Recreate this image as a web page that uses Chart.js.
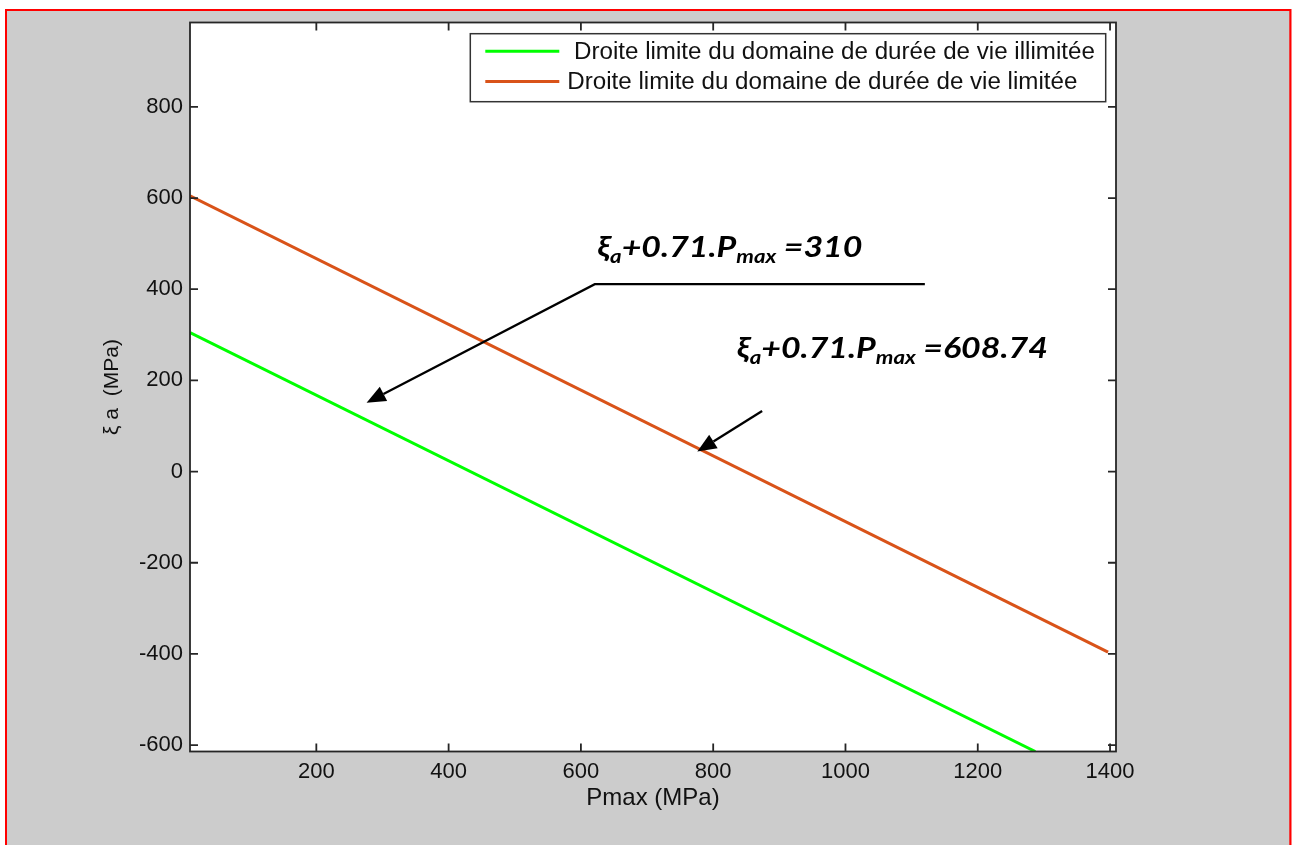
<!DOCTYPE html>
<html>
<head>
<meta charset="utf-8">
<script src="https://cdn.jsdelivr.net/npm/chart.js@4.4.1/dist/chart.umd.min.js"></script>
<style>
  html, body { margin: 0; padding: 0; background: #fff; }
  canvas { display: block; }
</style>
</head>
<body>
<canvas id="chart" width="1292" height="845"></canvas>
<script>
// values (both lines are straight, so only their ends)
const pmaxIllimitee = [9, 1287];
const xiIllimitee = [305, -614];
const pmaxLimitee = [9, 1397];
const xiLimitee = [605, -396];

const xTicks = [200, 400, 600, 800, 1000, 1200, 1400];
const yTicks = [-600, -400, -200, 0, 200, 400, 600, 800];

const legendLabels = [' Droite limite du domaine de durée de vie illimitée', 'Droite limite du domaine de durée de vie limitée'];
const lineColors = ['#00ff00', '#d95319'];

const FONT = "'Liberation Sans', Arial, sans-serif";
const NOTE_FONT = "Lato, 'Open Sans', sans-serif";

// Draws the figure frame (red outline, gray figure, white axes)
const framePlugin = {
    id: 'frame',
    beforeDraw(chart) {
        const { ctx, chartArea: a } = chart;
        ctx.save();
        ctx.fillStyle = '#ffffff';
        ctx.fillRect(0, 0, chart.width, chart.height);
        ctx.fillStyle = '#ff0000';
        ctx.fillRect(5, 9, 1286.5, chart.height);
        ctx.fillStyle = '#cccccc';
        ctx.fillRect(7, 11, 1289.3 - 7, chart.height);
        ctx.fillStyle = '#ffffff';
        ctx.fillRect(a.left, a.top, a.right - a.left, a.bottom - a.top);
        ctx.restore();
    }
};

// MATLAB style box with inward ticks on the four sides
const boxPlugin = {
    id: 'box',
    afterDatasetsDraw(chart) {
        const { ctx, chartArea: a, scales } = chart;
        const len = 8;
        ctx.save();
        ctx.strokeStyle = '#262626';
        ctx.lineWidth = 1.8;
        ctx.beginPath();
        xTicks.forEach(v => {
            const px = scales.x.getPixelForValue(v);
            ctx.moveTo(px, a.bottom); ctx.lineTo(px, a.bottom - len);
            ctx.moveTo(px, a.top); ctx.lineTo(px, a.top + len);
        });
        yTicks.forEach(v => {
            const py = scales.y.getPixelForValue(v);
            ctx.moveTo(a.left, py); ctx.lineTo(a.left + len, py);
            ctx.moveTo(a.right, py); ctx.lineTo(a.right - len, py);
        });
        ctx.stroke();
        ctx.strokeRect(a.left, a.top, a.right - a.left, a.bottom - a.top);
        ctx.restore();
    }
};

// legend box inside the axes, top right
const legendPlugin = {
    id: 'matlabLegend',
    afterDraw(chart) {
        const { ctx, chartArea: a } = chart;
        const right = a.right - 10.3, top = a.top + 11.2;
        const left = 470.3, bottom = top + 68;
        ctx.save();
        ctx.fillStyle = '#ffffff';
        ctx.fillRect(left, top, right - left, bottom - top);
        ctx.strokeStyle = '#333';
        ctx.lineWidth = 1.5;
        ctx.strokeRect(left, top, right - left, bottom - top);
        const rows = [top + 17.5, top + 47.8];
        legendLabels.forEach((label, i) => {
            ctx.strokeStyle = lineColors[i];
            ctx.lineWidth = 3;
            ctx.beginPath();
            ctx.moveTo(left + 15, rows[i]);
            ctx.lineTo(left + 89, rows[i]);
            ctx.stroke();
            ctx.fillStyle = '#111';
            ctx.font = `23px ${FONT}`;
            ctx.textBaseline = 'middle';
            ctx.save();
            ctx.translate(left + 97, rows[i] + 1);
            ctx.scale(1.05, 1);
            ctx.fillText(label, 0, 0);
            ctx.restore();
        });
        ctx.restore();
    }
};

// equations and arrows, placed in data coordinates
const notes = [
    { at: [625, 470], parts: [['ξ'], ['a', 1], ['+0.71.P'], ['max', 1], [' =310']] },
    { at: [836, 249], parts: [['ξ'], ['a', 1], ['+0.71.P'], ['max', 1], [' =608.74']] }
];
const arrows = [
    { path: [[1120, 411], [621, 411], [276, 151]] },
    { path: [[874, 133], [776, 44]] }
];

const notesPlugin = {
    id: 'notes',
    afterDraw(chart) {
        const { ctx, scales } = chart;
        const X = v => scales.x.getPixelForValue(v);
        const Y = v => scales.y.getPixelForValue(v);
        ctx.save();
        ctx.fillStyle = '#000';
        ctx.textBaseline = 'alphabetic';
        notes.forEach(n => {
            ctx.save();
            ctx.translate(X(n.at[0]), Y(n.at[1]));
            ctx.scale(1.17, 1);
            let x = 0;
            n.parts.forEach(([t, sub]) => {
                ctx.font = sub ? `italic bold 19px ${NOTE_FONT}` : `italic bold 29px ${NOTE_FONT}`;
                ctx.fillText(t, x, sub ? 6 : 0);
                x += ctx.measureText(t).width;
            });
            ctx.restore();
        });
        ctx.strokeStyle = '#000';
        ctx.lineWidth = 2.3;
        arrows.forEach(ar => {
            const pts = ar.path.map(p => [X(p[0]), Y(p[1])]);
            const tip = pts[pts.length - 1], prev = pts[pts.length - 2];
            const ang = Math.atan2(tip[1] - prev[1], tip[0] - prev[0]);
            const hl = 19, hw = 8;
            const bx = tip[0] - hl * Math.cos(ang), by = tip[1] - hl * Math.sin(ang);
            ctx.beginPath();
            ctx.moveTo(pts[0][0], pts[0][1]);
            for (let i = 1; i < pts.length - 1; i++) ctx.lineTo(pts[i][0], pts[i][1]);
            ctx.lineTo(bx, by);
            ctx.stroke();
            ctx.beginPath();
            ctx.moveTo(tip[0], tip[1]);
            ctx.lineTo(bx + hw * Math.sin(ang), by - hw * Math.cos(ang));
            ctx.lineTo(bx - hw * Math.sin(ang), by + hw * Math.cos(ang));
            ctx.closePath();
            ctx.fill();
        });
        ctx.restore();
    }
};

const toPoints = (xs, ys) => xs.map((x, i) => ({ x, y: ys[i] }));

new Chart(document.getElementById('chart'), {
    type: 'line',
    data: {
        datasets: [{
            label: legendLabels[0],
            data: toPoints(pmaxIllimitee, xiIllimitee),
            borderColor: lineColors[0],
            borderWidth: 3,
            pointRadius: 0,
            fill: false
        }, {
            label: legendLabels[1],
            data: toPoints(pmaxLimitee, xiLimitee),
            borderColor: lineColors[1],
            borderWidth: 3,
            pointRadius: 0,
            fill: false
        }]
    },
    options: {
        responsive: false,
        animation: false,
        layout: { padding: { top: 22.5, right: 176, bottom: 0, left: 0 } },
        plugins: { legend: { display: false }, tooltip: { enabled: false } },
        scales: {
            x: {
                type: 'linear',
                min: 9,
                max: 1409,
                afterBuildTicks: s => { s.ticks = xTicks.map(v => ({ value: v })); },
                afterFit: s => { s.height = 93.5; },
                grid: { display: false, drawTicks: false },
                border: { display: false },
                ticks: {
                    font: { family: FONT, size: 22 },
                    color: '#111',
                    padding: 7,
                    maxRotation: 0,
                    autoSkip: false,
                    callback: v => String(v)
                },
                title: {
                    display: true,
                    text: 'Pmax (MPa)',
                    font: { family: FONT, size: 24 },
                    color: '#111',
                    padding: { top: 0, bottom: 32 }
                }
            },
            y: {
                type: 'linear',
                min: -614,
                max: 985,
                afterBuildTicks: s => { s.ticks = yTicks.map(v => ({ value: v })); },
                afterFit: s => { s.width = 190; },
                grid: { display: false, drawTicks: false },
                border: { display: false },
                ticks: {
                    font: { family: FONT, size: 22 },
                    color: '#111',
                    padding: 7,
                    autoSkip: false,
                    callback: v => String(v)
                },
                title: {
                    display: true,
                    text: 'ξ a  (MPa)',
                    font: { family: FONT, size: 21 },
                    color: '#111',
                    padding: { top: 100, bottom: 0 }
                }
            }
        }
    },
    plugins: [framePlugin, boxPlugin, legendPlugin, notesPlugin]
});
</script>
</body>
</html>
